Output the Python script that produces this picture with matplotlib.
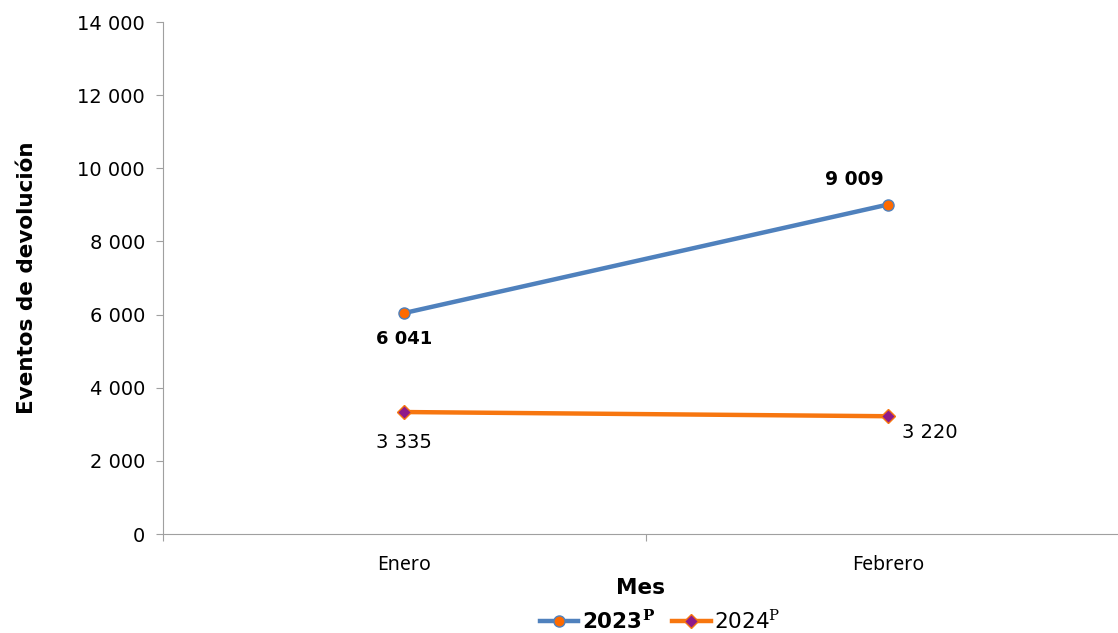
import matplotlib
matplotlib.use('Agg')
import matplotlib.pyplot as plt
from matplotlib.ticker import FuncFormatter

# %% Data
meses = ['Enero', 'Febrero']
valores_2023 = [6041, 9009]
valores_2024 = [3335, 3220]

def miles(v, pos=None):
    return f'{int(v):,}'.replace(',', ' ')

# %% Plot
plt.rcParams['font.family'] = ['DejaVu Sans']
plt.rcParams['mathtext.fontset'] = 'dejavuserif'
fig = plt.figure(figsize=(11.18, 6.33), dpi=100)
ax = fig.add_axes([163/1118, 1 - 534/633, (1118 - 163)/1118, (534 - 22)/633])

x = list(range(len(meses)))
ax.plot(x, valores_2023, color='#4F81BD', lw=3.2, marker='o', ms=8,
        markerfacecolor='#FF6A00', markeredgecolor='#4F81BD', markeredgewidth=1,
        label='2023', zorder=3)
ax.plot(x, valores_2024, color='#F7760F', lw=3.2, marker='D', ms=7,
        markerfacecolor='#8E1A8A', markeredgecolor='#F7760F', markeredgewidth=1,
        label='2024', zorder=3)

# data labels
ax.annotate(miles(valores_2023[0]), (x[0], valores_2023[0]), xytext=(0, -19),
            textcoords='offset points', ha='center', va='center',
            fontsize=13, fontweight='bold')
ax.annotate(miles(valores_2023[1]), (x[1], valores_2023[1]), xytext=(-24, 18),
            textcoords='offset points', ha='center', va='center',
            fontsize=13.5, fontweight='bold')
ax.annotate(miles(valores_2024[0]), (x[0], valores_2024[0]), xytext=(0, -22),
            textcoords='offset points', ha='center', va='center', fontsize=14)
ax.annotate(miles(valores_2024[1]), (x[1], valores_2024[1]), xytext=(30, -12),
            textcoords='offset points', ha='center', va='center', fontsize=14)

ax.set_ylim(0, 14000)
ax.set_yticks(range(0, 14001, 2000))
ax.yaxis.set_major_formatter(FuncFormatter(miles))
ax.set_xticks([-0.498, 0.5], minor=False)
ax.set_xticklabels(['', ''])
ax.set_xticks(x, minor=True)
ax.set_xticklabels(meses, minor=True, family='Noto Sans')
ax.set_xlim(-0.498, 1.475)
ax.tick_params(axis='x', which='minor', length=0, pad=15, labelsize=14)
ax.tick_params(axis='x', which='major', length=5, color='#A0A0A0')
ax.tick_params(axis='y', length=5, color='#A0A0A0', labelsize=14, pad=8)

for s in ['top', 'right']:
    ax.spines[s].set_visible(False)
for s in ['left', 'bottom']:
    ax.spines[s].set_color('#A0A0A0')

ax.set_ylabel('Eventos de devolución', fontsize=15.5, fontweight='bold', labelpad=29)
ax.set_xlabel('Mes', fontsize=15.5, fontweight='bold', labelpad=2)

leg = fig.legend(handles=ax.get_lines(), loc='center',
                 bbox_to_anchor=(660/1118, 1 - 621/633), ncol=2,
                 frameon=False, handlelength=1.8, columnspacing=0.8,
                 handletextpad=0.15, borderaxespad=0, borderpad=0,
                 prop={'size': 15.5})
texts = leg.get_texts()
texts[0].set_text('2023$^{\\mathbf{P}}$')
texts[0].set_fontweight('bold')
texts[1].set_text('2024$^{\\mathrm{P}}$')

fig.savefig('out.png', dpi=100)
